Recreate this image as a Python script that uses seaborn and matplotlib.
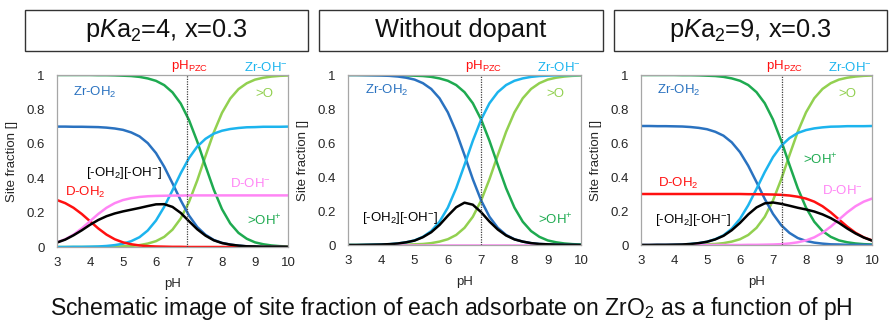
import matplotlib
matplotlib.use("Agg")
import matplotlib.pyplot as plt
from matplotlib.patches import Rectangle
import pandas as pd
import seaborn as sns

# ---------------- data ----------------
ph = [3.0, 3.25, 3.5, 3.75, 4.0, 4.25, 4.5, 4.75, 5.0, 5.25, 5.5, 5.75, 6.0, 6.25,
      6.5, 6.75, 7.0, 7.25, 7.5, 7.75, 8.0, 8.25, 8.5, 8.75, 9.0, 9.25, 9.5, 9.75, 10.0]

oh_plus = [1.000, 1.000, 1.000, 1.000, 1.000, 0.999, 0.999, 0.998, 0.996, 0.994, 0.989, 0.980,
           0.966, 0.941, 0.899, 0.834, 0.738, 0.613, 0.471, 0.334, 0.220, 0.137, 0.082, 0.048,
           0.027, 0.016, 0.009, 0.005, 0.003]
o_site = [0.000, 0.000, 0.000, 0.000, 0.000, 0.001, 0.001, 0.002, 0.004, 0.006, 0.011, 0.020,
          0.034, 0.059, 0.101, 0.166, 0.262, 0.387, 0.529, 0.666, 0.780, 0.863, 0.918, 0.952,
          0.973, 0.984, 0.991, 0.995, 0.997]

# doped panels (x = 0.3): Zr sites
zr_oh2_doped = [0.700, 0.700, 0.699, 0.699, 0.698, 0.697, 0.694, 0.689, 0.681, 0.666, 0.643, 0.604,
                0.546, 0.466, 0.370, 0.271, 0.183, 0.116, 0.071, 0.041, 0.024, 0.014, 0.008, 0.004,
                0.003, 0.001, 0.001, 0.001, 0.000]
zr_ohm_doped = [0.000, 0.000, 0.001, 0.001, 0.002, 0.003, 0.006, 0.011, 0.019, 0.034, 0.057, 0.096,
                0.154, 0.234, 0.330, 0.429, 0.517, 0.584, 0.629, 0.659, 0.676, 0.686, 0.692, 0.696,
                0.697, 0.699, 0.699, 0.699, 0.700]

# without dopant
zr_oh2_pure = [1.000, 1.000, 0.999, 0.998, 0.997, 0.995, 0.991, 0.984, 0.973, 0.952, 0.918, 0.863,
               0.780, 0.666, 0.529, 0.387, 0.262, 0.166, 0.101, 0.059, 0.034, 0.020, 0.011, 0.006,
               0.004, 0.002, 0.001, 0.001, 0.000]
zr_ohm_pure = [0.000, 0.000, 0.001, 0.002, 0.003, 0.005, 0.009, 0.016, 0.027, 0.048, 0.082, 0.137,
               0.220, 0.334, 0.471, 0.613, 0.738, 0.834, 0.899, 0.941, 0.966, 0.980, 0.989, 0.994,
               0.996, 0.998, 0.999, 0.999, 1.000]
pair_pure = [0.000, 0.000, 0.001, 0.002, 0.003, 0.005, 0.009, 0.016, 0.026, 0.046, 0.075, 0.118,
             0.172, 0.222, 0.249, 0.237, 0.193, 0.138, 0.091, 0.056, 0.033, 0.020, 0.011, 0.006,
             0.004, 0.002, 0.001, 0.001, 0.000]
d_ohm_pure = [0.000, 0.000, 0.000, 0.000, 0.000, 0.000, 0.000, 0.000, 0.000, 0.000, 0.000, 0.000,
              0.000, 0.000, 0.000, 0.000, 0.000, 0.000, 0.000, 0.000, 0.000, 0.000, 0.000, 0.000,
              0.000, 0.000, 0.000, 0.000, 0.000]

# pKa2 = 4
d_oh2_p1 = [0.273, 0.255, 0.228, 0.192, 0.150, 0.108, 0.072, 0.045, 0.027, 0.016, 0.009, 0.005,
            0.003, 0.002, 0.001, 0.001, 0.000, 0.000, 0.000, 0.000, 0.000, 0.000, 0.000, 0.000,
            0.000, 0.000, 0.000, 0.000, 0.000]
d_ohm_p1 = [0.027, 0.045, 0.072, 0.108, 0.150, 0.192, 0.228, 0.255, 0.273, 0.284, 0.291, 0.295,
            0.297, 0.298, 0.299, 0.299, 0.300, 0.300, 0.300, 0.300, 0.300, 0.300, 0.300, 0.300,
            0.300, 0.300, 0.300, 0.300, 0.300]
pair_p1 = [0.026, 0.043, 0.068, 0.097, 0.129, 0.157, 0.179, 0.195, 0.207, 0.217, 0.227, 0.238,
           0.248, 0.249, 0.233, 0.198, 0.150, 0.103, 0.066, 0.039, 0.023, 0.014, 0.008, 0.004,
           0.003, 0.001, 0.001, 0.001, 0.000]

# pKa2 = 9
d_oh2_p3 = [0.300, 0.300, 0.300, 0.300, 0.300, 0.300, 0.300, 0.300, 0.300, 0.300, 0.300, 0.300,
            0.300, 0.299, 0.299, 0.298, 0.297, 0.295, 0.291, 0.284, 0.273, 0.255, 0.228, 0.192,
            0.150, 0.108, 0.072, 0.045, 0.027]
d_ohm_p3 = [0.000, 0.000, 0.000, 0.000, 0.000, 0.000, 0.000, 0.000, 0.000, 0.000, 0.000, 0.000,
            0.000, 0.001, 0.001, 0.002, 0.003, 0.005, 0.009, 0.016, 0.027, 0.045, 0.072, 0.108,
            0.150, 0.192, 0.228, 0.255, 0.273]
pair_p3 = [0.000, 0.000, 0.001, 0.001, 0.002, 0.003, 0.006, 0.011, 0.019, 0.033, 0.054, 0.087,
           0.130, 0.180, 0.221, 0.245, 0.250, 0.242, 0.231, 0.219, 0.209, 0.197, 0.180, 0.158,
           0.130, 0.097, 0.068, 0.044, 0.026]

ph_pzc = [6.93, 7.0, 7.28]
panel_titles = ["p$\\mathit{K}$a$_2$=4, x=0.3", "Without dopant", "p$\\mathit{K}$a$_2$=9, x=0.3"]
x_ticks = [3, 4, 5, 6, 7, 8, 9, 10]
y_ticks = [0, 0.2, 0.4, 0.6, 0.8, 1]
y_tick_labels = ["0", "0.2", "0.4", "0.6", "0.8", "1"]
caption = "Schematic image of site fraction of each adsorbate on ZrO$_2$ as a function of pH"

# ---------------- style ----------------
sns.set_theme(style="white")
plt.rcParams["font.family"] = ["Liberation Sans", "DejaVu Sans"]
plt.rcParams["mathtext.fontset"] = "custom"
plt.rcParams["mathtext.rm"] = "Liberation Sans"
plt.rcParams["mathtext.it"] = "Liberation Sans:italic"
plt.rcParams["mathtext.bf"] = "Liberation Sans:bold"

palette = {
    ">O": "#92D050",
    ">OH+": "#1EAA50",
    "Zr-OH2": "#2A72C0",
    "Zr-OH-": "#1CB4EE",
    "D-OH2": "#FF1010",
    "D-OH-": "#FF85F5",
    "pair": "#000000",
}
order = [">O", ">OH+", "Zr-OH2", "Zr-OH-", "D-OH2", "D-OH-", "pair"]

panels = [
    {">O": o_site, ">OH+": oh_plus, "Zr-OH2": zr_oh2_doped, "Zr-OH-": zr_ohm_doped,
     "D-OH2": d_oh2_p1, "D-OH-": d_ohm_p1, "pair": pair_p1},
    {">O": o_site, ">OH+": oh_plus, "Zr-OH2": zr_oh2_pure, "Zr-OH-": zr_ohm_pure,
     "D-OH-": d_ohm_pure, "pair": pair_pure},
    {">O": o_site, ">OH+": oh_plus, "Zr-OH2": zr_oh2_doped, "Zr-OH-": zr_ohm_doped,
     "D-OH2": d_oh2_p3, "D-OH-": d_ohm_p3, "pair": pair_p3},
]

W, H = 890, 321
fig = plt.figure(figsize=(W / 100, H / 100), dpi=100)

axes_px = [(57, 75, 288, 247), (348, 75, 581, 245), (641, 75, 872, 245)]
boxes_px = [(25, 10, 308, 51), (319, 10, 603, 51), (614, 10, 887, 51)]

labels = [
    [("Zr-OH$_2$", 3.48, 0.90, "Zr-OH2", "left"),
     (">O", 9.0, 0.89, ">O", "left"),
     ("[-OH$_2$][-OH$^{-}$]", 3.88, 0.43, "pair", "left"),
     ("D-OH$^{-}$", 8.24, 0.37, "D-OH-", "left"),
     ("D-OH$_2$", 3.24, 0.32, "D-OH2", "left"),
     (">OH$^{+}$", 8.76, 0.15, ">OH+", "left")],
    [("Zr-OH$_2$", 3.5, 0.91, "Zr-OH2", "left"),
     (">O", 8.97, 0.89, ">O", "left"),
     ("[-OH$_2$][-OH$^{-}$]", 3.42, 0.16, "pair", "left"),
     (">OH$^{+}$", 8.7, 0.15, ">OH+", "left")],
    [("Zr-OH$_2$", 3.48, 0.91, "Zr-OH2", "left"),
     (">O", 8.97, 0.89, ">O", "left"),
     (">OH$^{+}$", 7.9, 0.50, ">OH+", "left"),
     ("D-OH$_2$", 3.5, 0.36, "D-OH2", "left"),
     ("D-OH$^{-}$", 8.5, 0.32, "D-OH-", "left"),
     ("[-OH$_2$][-OH$^{-}$]", 3.42, 0.15, "pair", "left")],
]

frame_c = "#A6A6A6"
text_c = "#262626"

for i, (data, (x0, y0, x1, y1)) in enumerate(zip(panels, axes_px)):
    ax = fig.add_axes([x0 / W, 1 - y1 / H, (x1 - x0) / W, (y1 - y0) / H])
    rows = []
    for sp in order:
        if sp in data:
            for xv, yv in zip(ph, data[sp]):
                rows.append({"pH": xv, "fraction": yv, "species": sp})
    df = pd.DataFrame(rows)
    hue_order = [sp for sp in order if sp in data]
    sns.lineplot(data=df, x="pH", y="fraction", hue="species", hue_order=hue_order,
                 palette=palette, legend=False, linewidth=1.8, ax=ax, clip_on=True)
    ax.axvline(ph_pzc[i], color="#404040", linestyle=(0, (1, 1)), linewidth=0.9, zorder=5)
    ax.set_xlim(3, 10)
    ax.set_ylim(0, 1)
    ax.set_xticks(x_ticks)
    ax.set_yticks(y_ticks)
    ax.set_yticklabels(y_tick_labels)
    ax.tick_params(direction="in", length=3, width=0.8, color=frame_c, labelsize=9.5,
                   labelcolor=text_c)
    ax.tick_params(axis="x", pad=7)
    ax.tick_params(axis="y", pad=9)
    for s in ax.spines.values():
        s.set_color(frame_c)
        s.set_linewidth(0.9)
    ax.set_xlabel("pH", fontsize=9.5, color=text_c, labelpad=7)
    ax.set_ylabel("Site fraction []", fontsize=9.5, color=text_c, labelpad=6)
    # labels
    for txt, tx, ty, key, ha in labels[i]:
        ax.text(tx, ty, txt, color=palette[key], fontsize=9.5, ha=ha, va="center")
    ax.text(ph_pzc[i] + 0.08, 1.005, "pH$_{\\rm PZC}$", color="#FF1010", fontsize=9.5,
            ha="center", va="bottom", transform=ax.transData)
    ax.text(10, 1.005, "Zr-OH$^{-}$", color=palette["Zr-OH-"], fontsize=9.5,
            ha="right", va="bottom")

for (bx0, by0, bx1, by1), title in zip(boxes_px, panel_titles):
    fig.add_artist(Rectangle((bx0 / W, 1 - by1 / H), (bx1 - bx0) / W, (by1 - by0) / H,
                             transform=fig.transFigure, fill=False, edgecolor="#333333",
                             linewidth=1.0))
    fig.text((bx0 + bx1) / 2 / W, 1 - (by0 + by1) / 2 / H, title, fontsize=18.3,
             ha="center", va="center", color="#111111")

fig.text(451.5 / W, 1 - 308 / H, caption, fontsize=16.6, ha="center", va="center",
         color="#111111")

fig.savefig("out.png", dpi=100, facecolor="white")
